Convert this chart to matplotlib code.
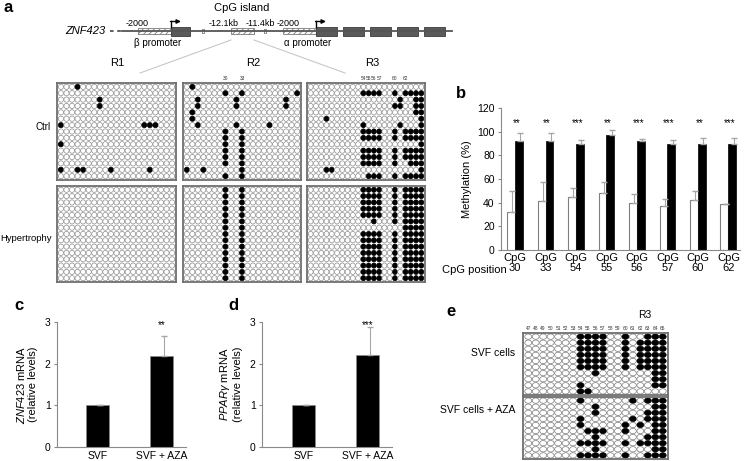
import numpy as np
import matplotlib
matplotlib.use('Agg')
import matplotlib.pyplot as plt
from matplotlib.collections import EllipseCollection
from matplotlib.patches import Rectangle

plt.rcParams['font.family'] = ['Liberation Sans', 'DejaVu Sans']
plt.rcParams['mathtext.fontset'] = 'custom'
plt.rcParams['mathtext.it'] = 'Liberation Sans:italic'
plt.rcParams['mathtext.rm'] = 'Liberation Sans'
plt.rcParams['hatch.linewidth'] = 0.6

W, H = 744, 461

# ---- panel a: methylated CpG columns for each clone (row) ----
R3_ALL = [10, 11, 12, 13, 16, 18, 19, 20, 21]
r1_ctrl = [[3], [], [7], [7], [], [], [0, 15, 16, 17], [], [], [0], [], [], [],
           [0, 3, 4, 9, 16], []]
r1_hyp = [[]] * 15
r2_ctrl = [[1], [7, 10, 20], [2, 9, 18], [2, 9, 18], [1], [1], [2, 9, 15],
           [7, 10], [7, 10], [7, 10], [7, 10], [7, 10], [7, 10], [0, 3, 10], [7, 10]]
r2_hyp = [[7, 10]] * 15
r3_ctrl = [[], R3_ALL, [17, 20, 21], [16, 17, 20, 21], [20, 21], [3, 21],
           [10, 17, 21], R3_ALL, R3_ALL, [21], R3_ALL, R3_ALL,
           [10, 11, 12, 13, 16, 19, 20, 21], [3, 4, 21], [11, 12, 13, 16, 18, 19, 20, 21]]
r3_hyp = [R3_ALL] * 5 + [[12, 16, 18, 19, 20, 21], [18, 19, 20, 21]] + [R3_ALL] * 8
r2_labels = {7: '30', 10: '33'}
r3_labels = {10: '54', 11: '55', 12: '56', 13: '57', 16: '60', 18: '62'}

# gene map (x positions on the schematic)
promoters = [(138, 171), (231, 254), (283, 316)]
exons = [(171, 190), (316, 337), (343, 364), (370, 391), (397, 418), (424, 445)]

# ---- panel b ----
cpg_pos = [30, 33, 54, 55, 56, 57, 60, 62]
ctrl_meth = [32.5, 41, 45, 48.5, 39.5, 37.5, 42, 38.5]
ctrl_err = [17.5, 16.5, 7, 9, 8, 5.5, 8, 0.7]
hyp_meth = [92, 92, 89.5, 97.5, 92, 89.5, 89.5, 89.5]
hyp_err = [7, 7, 3.5, 4, 2, 3.5, 5.5, 5.5]
b_stars = ['**', '**', '***', '**', '***', '***', '**', '***']

# ---- panels c, d ----
groups = ['SVF', 'SVF + AZA']
znf_mrna = [1.0, 2.18]
znf_err = [0.01, 0.49]
ppar_mrna = [1.0, 2.22]
ppar_err = [0.0, 0.65]

# ---- panel e ----
e_cpg = [47, 48, 49, 50, 51, 52, 53, 54, 55, 56, 57, 58, 59, 60, 61, 62, 63, 64, 65]
e_svf = [[54, 55, 56, 57, 60, 63, 64, 65],
         [54, 55, 56, 57, 60, 62, 63, 64, 65],
         [54, 55, 56, 57, 60, 62, 63, 64, 65],
         [54, 55, 56, 57, 60, 62, 63, 64, 65],
         [54, 55, 56, 57, 60, 62, 63, 64, 65],
         [54, 55, 56, 57, 60, 62, 63, 64, 65],
         [56, 64, 65],
         [64, 65],
         [54, 64, 65],
         [54, 55]]
e_aza = [[54, 61, 63, 64, 65],
         [56, 64, 65],
         [56, 63, 64, 65],
         [54, 61, 63, 64, 65],
         [54, 60, 62, 64, 65],
         [55, 56, 57, 60, 64, 65],
         [56, 63, 64, 65],
         [54, 55, 56, 57, 60, 62, 63, 64, 65],
         [56, 64, 65],
         [54, 55, 56, 57, 60, 63, 64, 65]]

fig = plt.figure(figsize=(W / 100, H / 100), dpi=100)


def px_axes(l, t, r, b):
    return fig.add_axes([l / W, 1 - b / H, (r - l) / W, (b - t) / H])


def lollipop(ax, rows, cols, w, h, ec='#8c8c8c'):
    xs, ys, fc, edge = [], [], [], []
    for i, filled in enumerate(rows):
        for j, c in enumerate(cols):
            xs.append(j)
            ys.append(i)
            fc.append('black' if c in filled else 'white')
            edge.append('black' if c in filled else ec)
    coll = EllipseCollection(w, h, 0, units='xy',
                             offsets=np.column_stack([xs, ys]),
                             offset_transform=ax.transData,
                             facecolors=fc, edgecolors=edge, linewidths=0.5)
    ax.add_collection(coll)
    ax.set_xlim(-0.7, len(cols) - 0.3)
    ax.set_ylim(len(rows) - 0.4, -0.6)
    ax.set_xticks([])
    ax.set_yticks([])
    for s in ax.spines.values():
        s.set_color('#6e6e6e')
        s.set_linewidth(1.3)


# ---- panel a : gene schematic ----
axg = px_axes(0, 0, 470, 80)
axg.set_xlim(0, 470)
axg.set_ylim(80, 0)
axg.axis('off')
axg.plot([122, 452], [31.5, 31.5], color='#555555', lw=1.3)
axg.plot([110, 122], [31.5, 31.5], color='#555555', lw=1.3, ls=(0, (2, 2)))
for x0, x1 in promoters:
    axg.add_patch(Rectangle((x0, 28.5), x1 - x0, 6, facecolor='white',
                            edgecolor='#7a7a7a', hatch='//////', lw=0.6))
for x0, x1 in exons:
    axg.add_patch(Rectangle((x0, 27), x1 - x0, 9, facecolor='#5a5a5a',
                            edgecolor='#3a3a3a', lw=0.6))
for xt in [203, 265]:
    axg.add_patch(Rectangle((xt - 1, 29.5), 2, 4, facecolor='white',
                            edgecolor='#777777', lw=0.6))
for xa in [171, 316]:
    axg.plot([xa, xa], [27, 21.5], color='black', lw=1)
    axg.annotate('', xy=(xa + 10, 21.5), xytext=(xa - 0.5, 21.5),
                 arrowprops=dict(arrowstyle='-|>', color='black', lw=1,
                                 mutation_scale=6, shrinkA=0, shrinkB=0))
axg.plot([231, 140], [40, 73], color='#c8c8c8', lw=0.8)
axg.plot([254, 345], [40, 73], color='#c8c8c8', lw=0.8)
axg.text(85, 31.5, 'ZNF423', style='italic', fontsize=8, ha='center', va='center')
for xx, s in [(137, '-2000'), (224, '-12.1kb'), (260, '-11.4kb'), (288, '-2000')]:
    axg.text(xx, 23, s, fontsize=6.5, ha='center', va='center')
axg.text(242, 8, 'CpG island', fontsize=8, ha='center', va='center')
axg.text(158, 43.5, 'β promoter', fontsize=7, ha='center', va='center')
axg.text(308, 43.5, 'α promoter', fontsize=7, ha='center', va='center')
for xx, s in [(117, 'R1'), (253, 'R2'), (372, 'R3')]:
    axg.text(xx, 63, s, fontsize=8, ha='center', va='center')
fig.text(3 / W, 1 - 8 / H, 'a', fontsize=12, fontweight='bold', va='center')

cols21 = list(range(21))
cols22 = list(range(22))
grids = [((57, 83, 176, 180), r1_ctrl, cols21, None),
         ((57, 186, 176, 282), r1_hyp, cols21, None),
         ((183, 83, 301, 180), r2_ctrl, cols21, r2_labels),
         ((183, 186, 301, 282), r2_hyp, cols21, None),
         ((307, 83, 425, 180), r3_ctrl, cols22, r3_labels),
         ((307, 186, 425, 282), r3_hyp, cols22, None)]
for box, rows, cols, labs in grids:
    ax = px_axes(*box)
    lollipop(ax, rows, cols, 0.93, 0.82)
    if labs:
        for c, s in labs.items():
            ax.text(c, -1.3, s, fontsize=3.5, ha='center', va='center',
                    color='#333333', clip_on=False)
fig.text(51 / W, 1 - 127 / H, 'Ctrl', fontsize=7, ha='right', va='center')
fig.text(52 / W, 1 - 238 / H, 'Hypertrophy', fontsize=6.8, ha='right', va='center')

# ---- panel b ----
axb = px_axes(501, 108, 740, 250)
x = np.arange(len(cpg_pos))
axb.bar(x - 0.13, ctrl_meth, 0.26, color='white', edgecolor='#7f7f7f', lw=0.8)
axb.bar(x + 0.13, hyp_meth, 0.26, color='black', edgecolor='black', lw=0.5)
axb.errorbar(x - 0.09, ctrl_meth, yerr=[np.zeros(len(x)), ctrl_err], fmt='none',
             ecolor='#a6a6a6', elinewidth=0.8, capsize=2)
axb.errorbar(x + 0.17, hyp_meth, yerr=[np.zeros(len(x)), hyp_err], fmt='none',
             ecolor='#a6a6a6', elinewidth=0.8, capsize=2)
for xi, s in zip(x, b_stars):
    axb.text(xi + 0.05, 107.5, s, fontsize=7, ha='center', va='center')
axb.set_xlim(-0.46, 7.38)
axb.set_ylim(0, 120)
axb.set_yticks([0, 20, 40, 60, 80, 100, 120])
axb.set_xticks(x, [f'CpG\n{p}' for p in cpg_pos])
axb.tick_params(axis='x', length=0, pad=2, labelsize=8)
axb.tick_params(axis='y', length=2.5, width=0.8, color='#888888', labelsize=7.5, pad=2)
for lab in axb.get_xticklabels():
    lab.set_linespacing(1.0)
axb.spines['top'].set_visible(False)
axb.spines['right'].set_visible(False)
axb.spines['left'].set_color('#8a8a8a')
axb.spines['bottom'].set_color('#8a8a8a')
axb.set_ylabel('Methylation (%)', fontsize=8, labelpad=4)
fig.text(442 / W, 1 - 270 / H, 'CpG position', fontsize=8, ha='left', va='center')
fig.text(456 / W, 1 - 94 / H, 'b', fontsize=12, fontweight='bold', va='center')


# ---- panels c, d ----
def mrna_panel(box, vals, errs, star, ylabel):
    ax = px_axes(*box)
    xx = np.arange(len(groups))
    ax.bar(xx, vals, 0.36, color='black', edgecolor='#8a8a8a', lw=0.5)
    ax.errorbar(xx + 0.04, vals, yerr=[np.zeros(len(xx)), errs], fmt='none',
                ecolor='#a6a6a6', elinewidth=0.8, capsize=2)
    ax.text(1, 2.93, star, fontsize=7, ha='center', va='center')
    ax.set_xlim(-0.64, 1.38)
    ax.set_ylim(0, 3)
    ax.set_yticks([0, 1, 2, 3])
    ax.set_xticks(xx, groups)
    ax.tick_params(axis='x', length=0, pad=3, labelsize=7.5)
    ax.tick_params(axis='y', length=2.5, width=0.8, color='#888888', labelsize=7.5, pad=2)
    for side in ['top', 'right']:
        ax.spines[side].set_visible(False)
    for side in ['left', 'bottom']:
        ax.spines[side].set_color('#8a8a8a')
    ax.set_ylabel(ylabel, fontsize=8, labelpad=5, linespacing=1.1)
    return ax


mrna_panel((57, 322, 186, 447), znf_mrna, znf_err, '**',
           '$\\it{ZNF423}$ mRNA\n(relative levels)')
mrna_panel((262, 322, 392, 447), ppar_mrna, ppar_err, '***',
           '$\\it{PPARγ}$ mRNA\n(relative levels)')
fig.text(14 / W, 1 - 306 / H, 'c', fontsize=12, fontweight='bold', va='center')
fig.text(228 / W, 1 - 306 / H, 'd', fontsize=12, fontweight='bold', va='center')

# ---- panel e ----
axe1 = px_axes(523, 333, 668, 395)
lollipop(axe1, e_svf, e_cpg, 0.92, 0.88, ec='#7a7a7a')
axe2 = px_axes(523, 397, 668, 459)
lollipop(axe2, e_aza, e_cpg, 0.92, 0.88, ec='#7a7a7a')
for j, c in enumerate(e_cpg):
    axe1.text(j, -1.4, str(c), fontsize=3.5, ha='center', va='center',
              color='#333333', clip_on=False)
fig.text(645 / W, 1 - 315 / H, 'R3', fontsize=7.5, ha='center', va='center')
fig.text(515 / W, 1 - 353 / H, 'SVF cells', fontsize=7.5, ha='right', va='center')
fig.text(515 / W, 1 - 410 / H, 'SVF cells + AZA', fontsize=7.5, ha='right', va='center')
fig.text(446 / W, 1 - 312 / H, 'e', fontsize=12, fontweight='bold', va='center')

fig.savefig('out.png', dpi=100)
